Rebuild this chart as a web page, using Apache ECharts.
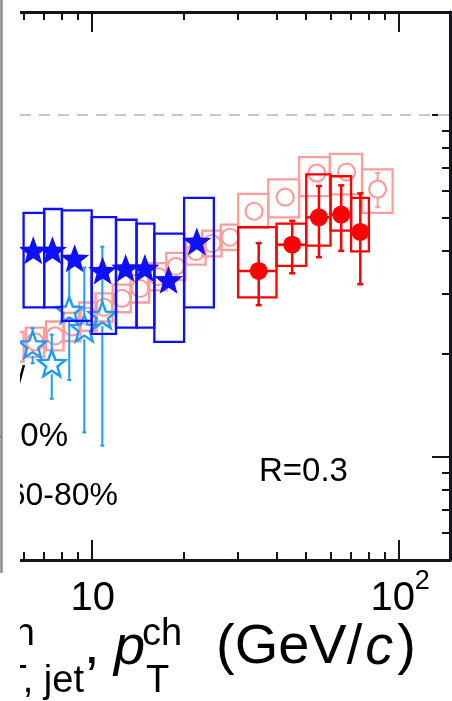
<!DOCTYPE html>
<html>
<head>
<meta charset="utf-8">
<script src="https://cdn.jsdelivr.net/npm/echarts@6/dist/echarts.min.js"></script>
<style>
  html, body { margin: 0; padding: 0; background: #ffffff; }
  #chart { width: 452px; height: 701px; }
</style>
</head>
<body>
<div id="chart"></div>
<script>
// ---- Charged-particle R_CP, 0-10% (filled stars) ----
const hadCentX    = [6.45, 7.45, 8.8, 10.85, 12.9, 14.9, 17.8, 22.0];
const hadCentY    = [0.402, 0.402, 0.381, 0.351, 0.357, 0.357, 0.330, 0.427];
const hadCentXLo  = [6, 7, 8, 10, 12, 14, 16, 20];
const hadCentXHi  = [7, 8, 10, 12, 14, 16, 20, 25];
const hadCentSysLo = [0.274, 0.274, 0.250, 0.229, 0.239, 0.239, 0.217, 0.274];
const hadCentSysHi = [0.517, 0.531, 0.526, 0.503, 0.494, 0.481, 0.450, 0.572];

// ---- Charged-particle R_CP, second selection (open stars) ----
const hadOpenX   = [5.7, 6.42, 7.41, 8.45, 9.46, 10.83];
const hadOpenY   = [0.217, 0.213, 0.188, 0.269, 0.238, 0.260];
const hadOpenErr = [0.030, 0.025, 0.040, 0.101, 0.120, 0.152];

// ---- Reference R_CP (open circles, light boxes) ----
const refX    = [5.63, 6.54, 7.59, 8.63, 9.72, 10.97, 12.55, 14.37, 16.44, 18.82, 21.86, 24.65, 28.22, 33.8, 42.7, 54.1, 67.7, 85.4];
const refY    = [0.210, 0.217, 0.226, 0.240, 0.258, 0.274, 0.291, 0.311, 0.337, 0.361, 0.399, 0.421, 0.439, 0.523, 0.575, 0.676, 0.681, 0.607];
const refErr  = [0.010, 0.010, 0.010, 0.010, 0.010, 0.010, 0.010, 0.010, 0.010, 0.010, 0.010, 0.010, 0.015, 0.020, 0.020, 0.030, 0.030, 0.070];
const refXLo  = [5.3, 6.1, 7.1, 8.1, 9.1, 10.3, 11.7, 13.4, 15.3, 17.5, 20.3, 22.9, 26.3, 30.0, 37.6, 47.4, 59.7, 76.0];
const refXHi  = [6.0, 7.0, 8.1, 9.2, 10.4, 11.7, 13.4, 15.4, 17.6, 20.2, 23.5, 26.5, 30.0, 37.6, 47.4, 59.7, 76.0, 95.6];
const refSysLo = [0.190, 0.196, 0.205, 0.218, 0.234, 0.249, 0.265, 0.283, 0.307, 0.329, 0.365, 0.386, 0.403, 0.468, 0.502, 0.579, 0.586, 0.517];
const refSysHi = [0.232, 0.239, 0.249, 0.264, 0.283, 0.301, 0.319, 0.341, 0.369, 0.395, 0.435, 0.459, 0.478, 0.588, 0.648, 0.753, 0.770, 0.693];

// ---- Charged jet R_CP, R = 0.3 (filled circles) ----
const jetX     = [35, 45, 55, 65, 75];
const jetXLo   = [30, 40, 50, 60, 70];
const jetXHi   = [40, 50, 60, 70, 80];
const jetY     = [0.350, 0.4175, 0.502, 0.5115, 0.455];
const jetErr   = [0.072, 0.073, 0.118, 0.111, 0.135];
const jetSysLo = [0.293, 0.362, 0.415, 0.459, 0.399];
const jetSysHi = [0.470, 0.481, 0.670, 0.662, 0.572];

// ---- Axes ----
const X_MIN = 5.84, X_MAX = 147;
const Y_MIN = 0.05, Y_MAX = 2;
const xMajorTicks = [10, 100];
const xMinorTicks = [6, 7, 8, 9, 20, 30, 40, 50, 60, 70, 80, 90];
const yMajorTicks = [0.1, 1];
const yMinorTicks = [0.06, 0.07, 0.08, 0.09, 0.2, 0.3, 0.4, 0.5, 0.6, 0.7, 0.8, 0.9];
const xTickBase = ['10', '10'];
const xTickExp  = ['', '2'];

const BLUE = '#0f0fff', LIGHTBLUE = '#1e9bff', RED = '#ff0000', PINK = '#ff9d9d';
const AXIS = '#14141e';
const FONT = '"Liberation Sans", Arial, Helvetica, sans-serif';

const STAR = 'path://M0,-100 L24.69,-33.98 L95.11,-30.9 L39.94,12.98 L58.78,80.9 L0,42 L-58.78,80.9 L-39.94,12.98 L-95.11,-30.9 L-24.69,-33.98 Z';

function zip() {
  const arrs = Array.prototype.slice.call(arguments);
  return arrs[0].map((_, i) => arrs.map(a => a[i]));
}

function boxSeries(name, data, color, z) {
  return {
    type: 'custom', name, z, clip: true, silent: true,
    data,
    encode: { x: [0, 1], y: [2, 3] },
    renderItem(params, api) {
      const a = api.coord([api.value(0), api.value(3)]);
      const b = api.coord([api.value(1), api.value(2)]);
      return {
        type: 'rect',
        shape: { x: a[0], y: a[1], width: b[0] - a[0], height: b[1] - a[1] },
        style: { fill: 'none', stroke: color, lineWidth: 2.3 }
      };
    }
  };
}

// statistical bar with end caps, leaving a gap around the marker; optional bin-width bar
function errSeries(name, data, color, width, cap, gap, withX, z) {
  return {
    type: 'custom', name, z, clip: true, silent: true,
    data,
    encode: { x: 0, y: 1 },
    renderItem(params, api) {
      const x = api.value(0), y = api.value(1), e = api.value(2);
      const c = api.coord([x, y]);
      const top = api.coord([x, y + e]);
      const bot = api.coord([x, Math.max(y - e, 1e-4)]);
      const st = { stroke: color, lineWidth: width };
      const children = [];
      if (c[1] - gap > top[1]) {
        children.push({ type: 'line', shape: { x1: c[0], y1: c[1] - gap, x2: top[0], y2: top[1] }, style: st });
        children.push({ type: 'line', shape: { x1: top[0] - cap, y1: top[1], x2: top[0] + cap, y2: top[1] }, style: st });
      }
      if (bot[1] > c[1] + gap) {
        children.push({ type: 'line', shape: { x1: c[0], y1: c[1] + gap, x2: bot[0], y2: bot[1] }, style: st });
        children.push({ type: 'line', shape: { x1: bot[0] - cap, y1: bot[1], x2: bot[0] + cap, y2: bot[1] }, style: st });
      }
      if (withX) {
        const l = api.coord([api.value(3), y]);
        const r = api.coord([api.value(4), y]);
        children.push({ type: 'line', shape: { x1: l[0], y1: l[1], x2: r[0], y2: r[1] }, style: st });
      }
      return { type: 'group', children };
    }
  };
}

function xAxisDef(position, ticks, len, withLine) {
  return {
    type: 'log', logBase: 10, min: X_MIN, max: X_MAX, position,
    axisLine: { show: withLine, onZero: false, lineStyle: { color: AXIS, width: 3 } },
    axisTick: { show: true, inside: true, length: len, customValues: ticks, lineStyle: { color: AXIS, width: 2 } },
    axisLabel: { show: false },
    splitLine: { show: false }
  };
}

function yAxisDef(ticks, len, withLine) {
  return {
    type: 'log', logBase: 10, min: Y_MIN, max: Y_MAX, position: 'right',
    axisLine: { show: withLine, onZero: false, lineStyle: { color: AXIS, width: 3 } },
    axisTick: { show: true, inside: true, length: len, customValues: ticks, lineStyle: { color: AXIS, width: 2 } },
    axisLabel: { show: false },
    splitLine: { show: false }
  };
}

const option = {
  animation: false,
  backgroundColor: '#ffffff',
  grid: { left: 20, right: 2, top: 12, bottom: 141, containLabel: false },
  xAxis: [
    xAxisDef('bottom', xMajorTicks, 20, true),
    xAxisDef('bottom', xMinorTicks, 8, false),
    xAxisDef('top', xMajorTicks, 20, true),
    xAxisDef('top', xMinorTicks, 8, false)
  ],
  yAxis: [
    yAxisDef(yMajorTicks, 18, true),
    yAxisDef(yMinorTicks, 8, false)
  ],
  series: [
    boxSeries('refSys', zip(refXLo, refXHi, refSysLo, refSysHi), PINK, 1),
    errSeries('refStat', zip(refX, refY, refErr), PINK, 2, 2.5, 8.5, false, 2),
    {
      type: 'scatter', name: 'ref', z: 3, symbol: 'circle', symbolSize: 17,
      data: zip(refX, refY),
      itemStyle: { color: 'rgba(0,0,0,0)', borderColor: PINK, borderWidth: 2.2, opacity: 1 },
      markLine: {
        silent: true, symbol: 'none', label: { show: false },
        lineStyle: { color: '#c6c6c6', width: 2, type: [11, 8] },
        data: [{ yAxis: 1 }]
      }
    },
    errSeries('hadOpenStat', zip(hadOpenX, hadOpenY, hadOpenErr), LIGHTBLUE, 2, 2, 11, false, 4),
    {
      type: 'scatter', name: 'hadOpen', z: 5, symbol: STAR, symbolSize: [27, 26],
      data: zip(hadOpenX, hadOpenY),
      itemStyle: { color: 'rgba(255,255,255,0)', borderColor: LIGHTBLUE, borderWidth: 2.4, opacity: 1 }
    },
    boxSeries('hadCentSys', zip(hadCentXLo, hadCentXHi, hadCentSysLo, hadCentSysHi), BLUE, 6),
    {
      type: 'scatter', name: 'hadCent', z: 7, symbol: STAR, symbolSize: [29, 28],
      data: zip(hadCentX, hadCentY),
      itemStyle: { color: BLUE, opacity: 1 }
    },
    boxSeries('jetSys', zip(jetXLo, jetXHi, jetSysLo, jetSysHi), RED, 8),
    errSeries('jetStat', zip(jetX, jetY, jetErr, jetXLo, jetXHi), RED, 2.5, 3, 0, true, 9),
    {
      type: 'scatter', name: 'jet', z: 10, symbol: 'circle', symbolSize: 18,
      data: zip(jetX, jetY),
      itemStyle: { color: RED, opacity: 1 }
    }
  ]
};

const chart = echarts.init(document.getElementById('chart'));
chart.setOption(option);

// text width helper for chaining pieces of the axis title
const measureCtx = document.createElement('canvas').getContext('2d');
function textWidth(str, font) { measureCtx.font = font; return measureCtx.measureText(str).width; }

function txt(text, x, y, size, align, extra) {
  return { type: 'text', z: 50, style: {
    text, x, y, fill: '#000', font: (extra || '') + size + 'px ' + FONT, align, verticalAlign: 'middle'
  } };
}

const graphics = [];

// x tick labels at the positions of the axis scale
xMajorTicks.forEach((v, i) => {
  const px = chart.convertToPixel({ xAxisIndex: 0 }, v);
  if (xTickExp[i]) {
    graphics.push(txt(xTickBase[i], px - 6, 599, 40, 'center'));
    graphics.push(txt(xTickExp[i], px + 16, 582, 27, 'left'));
  } else {
    graphics.push(txt(xTickBase[i], px + 1, 599, 40, 'center'));
  }
});

// annotations
graphics.push(txt('R=0.3', 259, 472, 33, 'left'));
graphics.push(txt('0-10%', 68, 437, 33, 'right'));
graphics.push(txt('60-80%', 118, 496, 32, 'right'));
graphics.push(txt('/', 16, 380, 33, 'left'));

// axis title
const MAIN = 56, SUB = 38;
graphics.push(txt('ch', 35, 635, SUB, 'right'));
graphics.push(txt('T, jet', 84, 682, SUB, 'right'));
graphics.push(txt(',', 84, 648, MAIN, 'left'));
graphics.push(txt('p', 114, 648, MAIN, 'left', 'italic '));
graphics.push(txt('ch', 142, 635, SUB, 'left'));
graphics.push(txt('T', 146, 682, SUB, 'left'));
const gx0 = 216;
const gx1 = gx0 + textWidth('(GeV/', MAIN + 'px ' + FONT) + 3;
const gx2 = gx1 + textWidth('c', 'italic ' + MAIN + 'px ' + FONT) + 4;
graphics.push(txt('(GeV/', gx0, 648, MAIN, 'left'));
graphics.push(txt('c', gx1, 648, MAIN, 'left', 'italic '));
graphics.push(txt(')', gx2, 648, MAIN, 'left'));

// edge of the neighbouring panel
graphics.push({ type: 'rect', z: 60, shape: { x: 3, y: 0, width: 17, height: 701 }, style: { fill: '#ffffff' } });
graphics.push({ type: 'rect', z: 60, shape: { x: 0, y: 573, width: 3, height: 128 }, style: { fill: '#ffffff' } });
graphics.push({ type: 'line', z: 61, shape: { x1: 1.5, y1: 0, x2: 1.5, y2: 573 }, style: { stroke: '#8a8a8a', lineWidth: 2.5 } });

chart.setOption({ graphic: graphics });
</script>
</body>
</html>
